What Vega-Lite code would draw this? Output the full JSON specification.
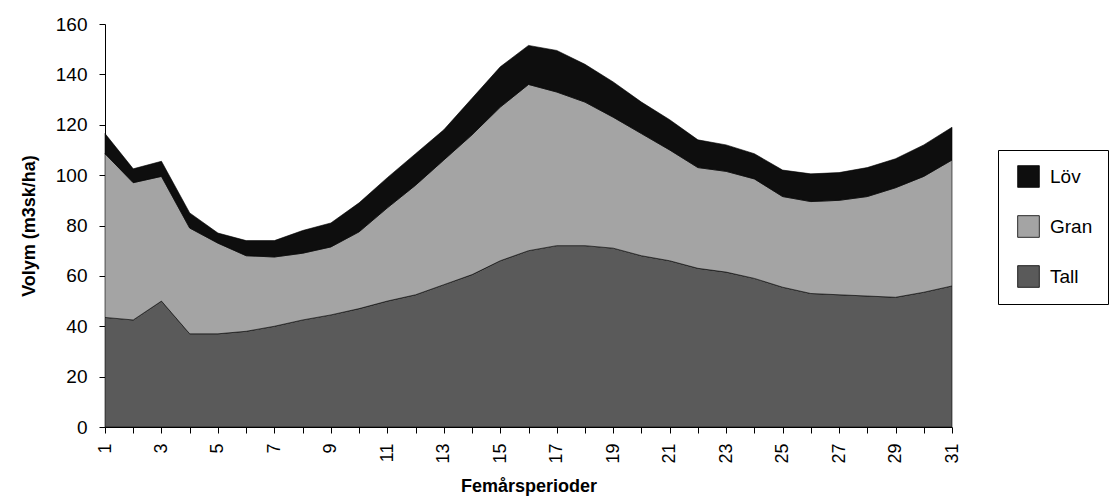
{
  "$schema": "https://vega.github.io/schema/vega-lite/v6.json",
  "width": 847,
  "height": 403,
  "autosize": {"type": "none"},
  "padding": {"left": 105, "top": 24, "right": 166, "bottom": 72},
  "background": "white",
  "config": {
    "view": {"stroke": null},
    "font": "Liberation Sans",
    "axis": {
      "domainColor": "#000",
      "domainWidth": 1,
      "tickColor": "#000",
      "tickWidth": 1,
      "tickSize": 6,
      "labelColor": "#000",
      "titleColor": "#000",
      "labelFont": "Liberation Sans",
      "titleFont": "Liberation Sans",
      "labelFontSize": 19,
      "titleFontSize": 18,
      "titleFontWeight": "bold",
      "grid": false
    }
  },
  "data": {
    "values": [
      {"period": 1, "art": "Tall", "volym": 43.5}, {"period": 1, "art": "Gran", "volym": 65}, {"period": 1, "art": "Löv", "volym": 8},
      {"period": 2, "art": "Tall", "volym": 42.5}, {"period": 2, "art": "Gran", "volym": 54.5}, {"period": 2, "art": "Löv", "volym": 5.5},
      {"period": 3, "art": "Tall", "volym": 50}, {"period": 3, "art": "Gran", "volym": 49.5}, {"period": 3, "art": "Löv", "volym": 6},
      {"period": 4, "art": "Tall", "volym": 37}, {"period": 4, "art": "Gran", "volym": 42}, {"period": 4, "art": "Löv", "volym": 6},
      {"period": 5, "art": "Tall", "volym": 37}, {"period": 5, "art": "Gran", "volym": 36}, {"period": 5, "art": "Löv", "volym": 4},
      {"period": 6, "art": "Tall", "volym": 38}, {"period": 6, "art": "Gran", "volym": 30}, {"period": 6, "art": "Löv", "volym": 6},
      {"period": 7, "art": "Tall", "volym": 40}, {"period": 7, "art": "Gran", "volym": 27.5}, {"period": 7, "art": "Löv", "volym": 6.5},
      {"period": 8, "art": "Tall", "volym": 42.5}, {"period": 8, "art": "Gran", "volym": 26.5}, {"period": 8, "art": "Löv", "volym": 9},
      {"period": 9, "art": "Tall", "volym": 44.5}, {"period": 9, "art": "Gran", "volym": 27}, {"period": 9, "art": "Löv", "volym": 9.5},
      {"period": 10, "art": "Tall", "volym": 47}, {"period": 10, "art": "Gran", "volym": 30.5}, {"period": 10, "art": "Löv", "volym": 11.5},
      {"period": 11, "art": "Tall", "volym": 50}, {"period": 11, "art": "Gran", "volym": 37}, {"period": 11, "art": "Löv", "volym": 12},
      {"period": 12, "art": "Tall", "volym": 52.5}, {"period": 12, "art": "Gran", "volym": 43.5}, {"period": 12, "art": "Löv", "volym": 12.5},
      {"period": 13, "art": "Tall", "volym": 56.5}, {"period": 13, "art": "Gran", "volym": 49.5}, {"period": 13, "art": "Löv", "volym": 12},
      {"period": 14, "art": "Tall", "volym": 60.5}, {"period": 14, "art": "Gran", "volym": 55.5}, {"period": 14, "art": "Löv", "volym": 14.5},
      {"period": 15, "art": "Tall", "volym": 66}, {"period": 15, "art": "Gran", "volym": 61}, {"period": 15, "art": "Löv", "volym": 16},
      {"period": 16, "art": "Tall", "volym": 70}, {"period": 16, "art": "Gran", "volym": 66}, {"period": 16, "art": "Löv", "volym": 15.5},
      {"period": 17, "art": "Tall", "volym": 72}, {"period": 17, "art": "Gran", "volym": 61}, {"period": 17, "art": "Löv", "volym": 16.5},
      {"period": 18, "art": "Tall", "volym": 72}, {"period": 18, "art": "Gran", "volym": 57}, {"period": 18, "art": "Löv", "volym": 15},
      {"period": 19, "art": "Tall", "volym": 71}, {"period": 19, "art": "Gran", "volym": 52}, {"period": 19, "art": "Löv", "volym": 14},
      {"period": 20, "art": "Tall", "volym": 68}, {"period": 20, "art": "Gran", "volym": 48.5}, {"period": 20, "art": "Löv", "volym": 12.5},
      {"period": 21, "art": "Tall", "volym": 66}, {"period": 21, "art": "Gran", "volym": 44}, {"period": 21, "art": "Löv", "volym": 12},
      {"period": 22, "art": "Tall", "volym": 63}, {"period": 22, "art": "Gran", "volym": 40}, {"period": 22, "art": "Löv", "volym": 11},
      {"period": 23, "art": "Tall", "volym": 61.5}, {"period": 23, "art": "Gran", "volym": 40}, {"period": 23, "art": "Löv", "volym": 10.5},
      {"period": 24, "art": "Tall", "volym": 59}, {"period": 24, "art": "Gran", "volym": 39.5}, {"period": 24, "art": "Löv", "volym": 10},
      {"period": 25, "art": "Tall", "volym": 55.5}, {"period": 25, "art": "Gran", "volym": 36}, {"period": 25, "art": "Löv", "volym": 10.5},
      {"period": 26, "art": "Tall", "volym": 53}, {"period": 26, "art": "Gran", "volym": 36.5}, {"period": 26, "art": "Löv", "volym": 11},
      {"period": 27, "art": "Tall", "volym": 52.5}, {"period": 27, "art": "Gran", "volym": 37.5}, {"period": 27, "art": "Löv", "volym": 11},
      {"period": 28, "art": "Tall", "volym": 52}, {"period": 28, "art": "Gran", "volym": 39.5}, {"period": 28, "art": "Löv", "volym": 11.5},
      {"period": 29, "art": "Tall", "volym": 51.5}, {"period": 29, "art": "Gran", "volym": 43.5}, {"period": 29, "art": "Löv", "volym": 11.5},
      {"period": 30, "art": "Tall", "volym": 53.5}, {"period": 30, "art": "Gran", "volym": 46}, {"period": 30, "art": "Löv", "volym": 12.5},
      {"period": 31, "art": "Tall", "volym": 56}, {"period": 31, "art": "Gran", "volym": 50}, {"period": 31, "art": "Löv", "volym": 13}
    ]
  },
  "transform": [
    {"calculate": "indexof(['Tall', 'Gran', 'Löv'], datum.art)", "as": "lager"}
  ],
  "mark": {"type": "area", "stroke": "#000", "strokeWidth": 0.6, "opacity": 1},
  "encoding": {
    "x": {
      "field": "period",
      "type": "quantitative",
      "scale": {"domain": [1, 31], "nice": false, "zero": false},
      "axis": {
        "title": "Femårsperioder",
        "values": [1, 2, 3, 4, 5, 6, 7, 8, 9, 10, 11, 12, 13, 14, 15, 16, 17, 18, 19, 20, 21, 22, 23, 24, 25, 26, 27, 28, 29, 30, 31],
        "labelExpr": "datum.value % 2 === 1 ? datum.label : ''",
        "labelAngle": -90,
        "labelFontSize": 18,
        "labelPadding": 10,
        "titlePadding": 14,
        "labelOverlap": false,
        "labelBound": false,
        "labelFlush": false
      }
    },
    "y": {
      "field": "volym",
      "type": "quantitative",
      "stack": "zero",
      "scale": {"domain": [0, 160], "nice": false},
      "axis": {
        "title": "Volym (m3sk/ha)",
        "values": [0, 20, 40, 60, 80, 100, 120, 140, 160],
        "labelPadding": 12,
        "titlePadding": 17
      }
    },
    "color": {
      "field": "art",
      "type": "nominal",
      "scale": {"domain": ["Löv", "Gran", "Tall"], "range": ["#0e0e0e", "#a4a4a4", "#5a5a5a"]},
      "legend": {
        "title": null,
        "orient": "none",
        "legendX": 893,
        "legendY": 126,
        "symbolType": "square",
        "symbolSize": 470,
        "symbolStrokeColor": "#000",
        "symbolStrokeWidth": 0.8,
        "symbolOpacity": 1,
        "symbolOffset": 4,
        "labelFont": "Liberation Sans",
        "labelFontSize": 19,
        "labelColor": "#000",
        "labelOffset": 10,
        "rowPadding": 25,
        "padding": 15,
        "strokeColor": "#000",
        "fillColor": "#fff"
      }
    },
    "order": {"field": "lager", "type": "quantitative"}
  }
}
